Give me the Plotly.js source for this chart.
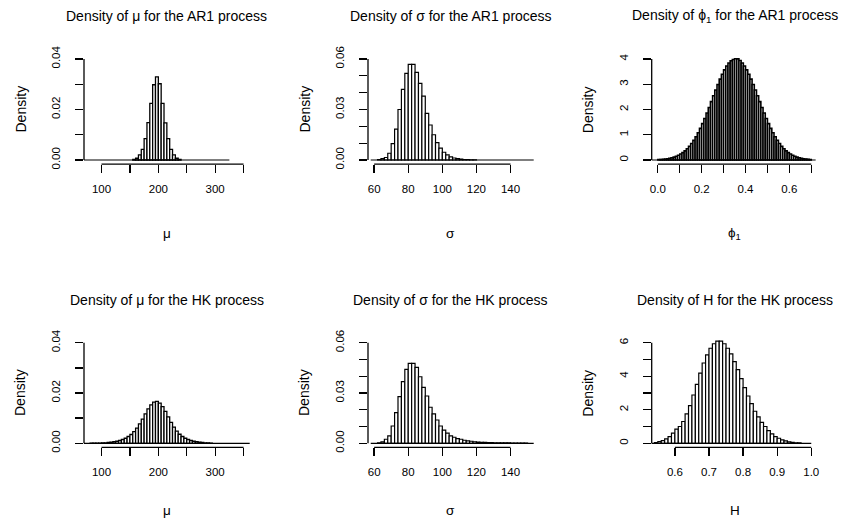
<!DOCTYPE html>
<html><head><meta charset="utf-8">
<script src="https://cdn.plot.ly/plotly-3.0.1.min.js"></script>
<style>html,body{margin:0;padding:0;background:#fff}#chart{width:841px;height:522px}</style>
</head><body><div id="chart"></div>
<script>
// ---------- data ----------
// Panel 1: mu, AR1
const mu_ar1_start = 155, mu_ar1_binwidth = 5;
const mu_ar1_density = [0.0002,0.0007,0.0020,0.0042,0.0085,0.0148,0.0224,0.0298,0.0329,0.0302,0.0224,0.0147,0.0085,0.0042,0.0020,0.0007,0.0002];
const mu_ar1_support = [65, 325];
// Panel 2: sigma, AR1
const sigma_ar1_start = 62, sigma_ar1_binwidth = 2;
const sigma_ar1_density = [0.0003,0.0008,0.0015,0.0040,0.0097,0.0183,0.0300,0.0420,0.0515,0.0568,0.0568,0.0520,0.0455,0.0380,0.0277,0.0208,0.0150,0.0103,0.0070,0.0046,0.0030,0.0018,0.0012,0.0008,0.0005,0.0003,0.0002,0.0001,0.0001];
const sigma_ar1_support = [58, 160];
// Panel 3: phi1, AR1
const phi_ar1_start = 0.0, phi_ar1_binwidth = 0.01;
const phi_ar1_density = [0.015,0.021,0.029,0.038,0.051,0.067,0.088,0.114,0.147,0.187,0.235,0.294,0.363,0.445,0.541,0.652,0.778,0.920,1.078,1.253,1.442,1.644,1.859,2.082,2.311,2.542,2.770,2.992,3.203,3.397,3.571,3.720,3.840,3.928,3.982,4.010,4.005,3.940,3.840,3.720,3.571,3.397,3.203,2.992,2.770,2.542,2.311,2.082,1.859,1.644,1.442,1.253,1.078,0.920,0.778,0.652,0.541,0.445,0.363,0.294,0.235,0.187,0.147,0.114,0.088,0.067,0.051,0.038,0.029,0.021];
const phi_ar1_support = [-0.03, 0.72];
// Panel 4: mu, HK
const mu_hk_start = 80, mu_hk_binwidth = 5;
const mu_hk_density = [0.00005,0.00005,0.0001,0.0001,0.00015,0.0002,0.0003,0.0004,0.0006,0.0008,0.0011,0.0015,0.0020,0.0027,0.0035,0.0046,0.0060,0.0077,0.0096,0.0117,0.0137,0.0153,0.0164,0.0167,0.0160,0.0146,0.0127,0.0105,0.0083,0.0064,0.0048,0.0036,0.0027,0.0020,0.0015,0.0011,0.0008,0.0006,0.0004,0.0003,0.0002,0.00015,0.0001];
const mu_hk_support = [50, 370];
// Panel 5: sigma, HK
const sigma_hk_start = 62, sigma_hk_binwidth = 2;
const sigma_hk_density = [0.0002,0.0008,0.0024,0.0044,0.0103,0.0183,0.0278,0.0368,0.0441,0.0477,0.0477,0.0453,0.0397,0.0334,0.0282,0.0215,0.0175,0.0139,0.0103,0.0079,0.0060,0.0044,0.0036,0.0028,0.0024,0.0018,0.0014,0.0012,0.0009,0.0007,0.0006,0.0005,0.0004,0.0004,0.0003,0.0003,0.0002,0.0002,0.0002,0.0001,0.0001,0.0001,0.0001,0.0001];
const sigma_hk_support = [58, 160];
// Panel 6: H, HK
const H_hk_start = 0.54, H_hk_binwidth = 0.01;
const H_hk_density = [0.04,0.10,0.16,0.26,0.40,0.60,0.85,1.00,1.30,1.75,2.25,2.88,3.52,4.19,4.79,5.27,5.67,5.94,6.10,6.10,5.94,5.67,5.33,4.87,4.39,3.86,3.32,2.82,2.37,1.91,1.57,1.25,1.00,0.76,0.56,0.40,0.30,0.20,0.14,0.08,0.05,0.03,0.02];
const H_hk_support = [0.53, 1.0];

// tick definitions
const mu_ticks = [100,150,200,250,300,350];
const mu_ticklabels = ['100','','200','','300',''];
const sigma_ticks = [60,80,100,120,140];
const sigma_ticklabels = ['60','80','100','120','140'];
const phi_ticks = [0,0.1,0.2,0.3,0.4,0.5,0.6,0.7];
const phi_ticklabels = ['0.0','','0.2','','0.4','','0.6',''];
const H_ticks = [0.6,0.7,0.8,0.9,1.0];
const H_ticklabels = ['0.6','0.7','0.8','0.9','1.0'];
const dens004_ticks = [0,0.01,0.02,0.03,0.04];
const dens004_labels = ['0.00','','0.02','','0.04'];
const dens006_ticks = [0,0.01,0.02,0.03,0.04,0.05,0.06];
const dens006_labels = ['0.00','','','0.03','','','0.06'];
const dens4_ticks = [0,1,2,3,4];
const dens4_labels = ['0','1','2','3','4'];
const dens6_ticks = [0,1,2,3,4,5,6];
const dens6_labels = ['0','','2','','4','','6'];

const titles = ['Density of μ for the AR1 process','Density of σ for the AR1 process','Density of ϕ<sub>1</sub> for the AR1 process',
                'Density of μ for the HK process','Density of σ for the HK process','Density of H for the HK process'];
const xlabels = ['μ','σ','ϕ<sub>1</sub>','μ','σ','H'];

// ---------- layout geometry / styling ----------
const W = 841, H = 522;
const colPx = [[84, 249.7],[368, 533.7],[651.7, 817.4]];
const rowPx = [[54.96, 164.04],[338.7, 447.3]];
const xlims = [[80,350],[60,150],[0,0.7],[80,350],[60,150],[0.55,1.0]];
const ylims = [0.04,0.06,4,0.04,0.06,6];
const barLineW = [1.3,1.2,1.6,1.3,1.2,1.2];
const titleY = [16, 299.5], xlabY = [233, 510], ylabOffset = 64;

const panels = [
  {s:mu_ar1_start,w:mu_ar1_binwidth,d:mu_ar1_density,sup:mu_ar1_support,xt:mu_ticks,xl:mu_ticklabels,yt:dens004_ticks,yl:dens004_labels},
  {s:sigma_ar1_start,w:sigma_ar1_binwidth,d:sigma_ar1_density,sup:sigma_ar1_support,xt:sigma_ticks,xl:sigma_ticklabels,yt:dens006_ticks,yl:dens006_labels},
  {s:phi_ar1_start,w:phi_ar1_binwidth,d:phi_ar1_density,sup:phi_ar1_support,xt:phi_ticks,xl:phi_ticklabels,yt:dens4_ticks,yl:dens4_labels},
  {s:mu_hk_start,w:mu_hk_binwidth,d:mu_hk_density,sup:mu_hk_support,xt:mu_ticks,xl:mu_ticklabels,yt:dens004_ticks,yl:dens004_labels},
  {s:sigma_hk_start,w:sigma_hk_binwidth,d:sigma_hk_density,sup:sigma_hk_support,xt:sigma_ticks,xl:sigma_ticklabels,yt:dens006_ticks,yl:dens006_labels},
  {s:H_hk_start,w:H_hk_binwidth,d:H_hk_density,sup:H_hk_support,xt:H_ticks,xl:H_ticklabels,yt:dens6_ticks,yl:dens6_labels}
];

const FONT = 'Liberation Sans, Arial, sans-serif';
const traces = [], shapes = [], annotations = [];
const layout = {width:W, height:H, margin:{l:0,r:0,t:0,b:0}, paper_bgcolor:'#fff', plot_bgcolor:'rgba(0,0,0,0)',
  showlegend:false, bargap:0, font:{family:FONT, color:'#000'}};
const tickFont = {size:11.5, family:FONT, color:'#000'};

panels.forEach((p, i) => {
  const n = i + 1, col = i % 3, row = Math.floor(i / 3);
  const xa = 'x' + n, ya = 'y' + n;
  const xname = 'xaxis' + (n === 1 ? '' : n), yname = 'yaxis' + (n === 1 ? '' : n);
  const xr = xlims[i], xw = xr[1] - xr[0], ym = ylims[i];
  layout[xname] = {domain:[colPx[col][0]/W, colPx[col][1]/W], range:[xr[0]-0.04*xw, xr[1]+0.04*xw], anchor:ya,
    tickvals:p.xt, ticktext:p.xl, ticks:'outside', ticklen:8, tickwidth:1.3, tickcolor:'#000',
    showline:false, showgrid:false, zeroline:false, fixedrange:true, tickfont:tickFont, ticklabelstandoff:6};
  layout[yname] = {domain:[1-rowPx[row][1]/H, 1-rowPx[row][0]/H], range:[-0.04*ym, 1.04*ym], anchor:xa,
    tickvals:p.yt, ticktext:p.yl, ticks:'outside', ticklen:8, tickwidth:1.3, tickcolor:'#000', tickangle:-90,
    showline:false, showgrid:false, zeroline:false, fixedrange:true, tickfont:tickFont, ticklabelstandoff:10};
  traces.push({type:'bar', xaxis:xa, yaxis:ya, x:p.d.map((v,k)=>p.s + p.w*(k+0.5)), y:p.d, width:p.w,
    marker:{color:'#fff', line:{color:'#000', width:barLineW[i]}}, hoverinfo:'skip'});
  traces.push({type:'scatter', mode:'lines', xaxis:xa, yaxis:ya, x:[p.sup[0], p.sup[1]], y:[0,0],
    line:{color:'#000', width:1.2}, hoverinfo:'skip'});
  // axis lines spanning first..last tick (R style)
  shapes.push({type:'line', xref:xa, yref:ya+' domain', x0:p.xt[0], x1:p.xt[p.xt.length-1], y0:0, y1:0, line:{color:'#000', width:1.3}});
  shapes.push({type:'line', xref:xa+' domain', yref:ya, x0:0, x1:0, y0:p.yt[0], y1:p.yt[p.yt.length-1], line:{color:'#000', width:1.3}});
  const cx = (colPx[col][0] + colPx[col][1]) / 2 / W;
  const off = row * 283.5;
  annotations.push({xref:'paper', yref:'paper', x:cx, y:1-titleY[row]/H, text:titles[i], showarrow:false, xanchor:'center', yanchor:'middle', font:{size:14, family:FONT}});
  annotations.push({xref:'paper', yref:'paper', x:cx, y:1-xlabY[row]/H, text:xlabels[i], showarrow:false, xanchor:'center', yanchor:'middle', font:{size:13.5, family:FONT}});
  annotations.push({xref:'paper', yref:'paper', x:(colPx[col][0]-ylabOffset)/W, y:1-(109.5+off)/H, text:'Density', textangle:-90, showarrow:false, xanchor:'center', yanchor:'middle', font:{size:14, family:FONT}});
});
layout.shapes = shapes;
layout.annotations = annotations;
Plotly.newPlot('chart', traces, layout, {staticPlot:true, displayModeBar:false});
</script></body></html>
